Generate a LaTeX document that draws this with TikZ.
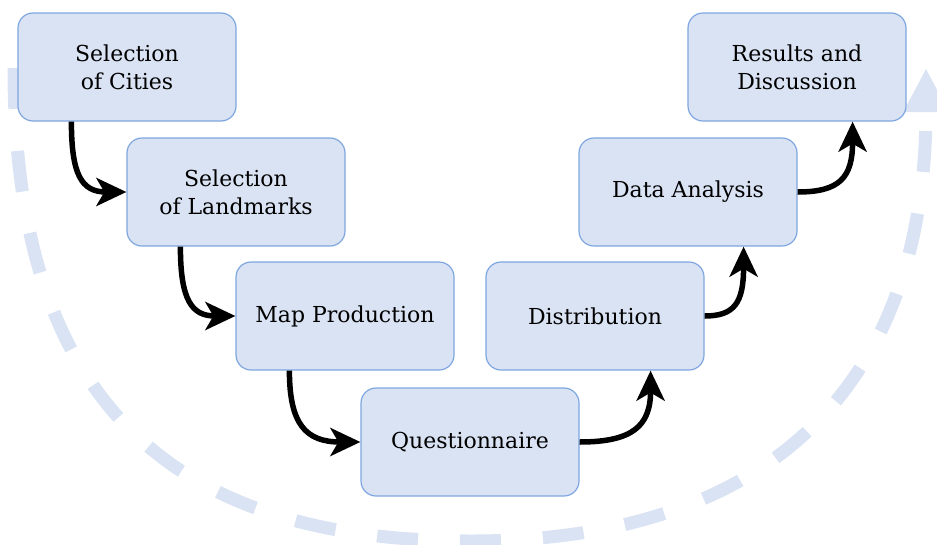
\documentclass[tikz,border=0pt]{standalone}
\usepackage{fontspec}
\setmainfont{DejaVu Serif}
\usetikzlibrary{arrows.meta}

\definecolor{boxfill}{RGB}{218,227,243}
\definecolor{boxline}{RGB}{126,166,224}
\definecolor{cycleblue}{RGB}{218,227,243}

\tikzset{
  stage/.style={draw=boxline, fill=boxfill, line width=1.2pt,
    rounded corners=15pt, minimum width=218pt, minimum height=108pt,
    align=center, font=\fontsize{22}{28}\selectfont, inner sep=0pt},
  flow/.style={line width=5.5pt, -{Stealth[length=30pt,width=28pt,inset=8pt]}},
  cycle/.style={line width=13pt, cycleblue, dash pattern=on 41pt off 42pt,
    -{Triangle[length=44pt,width=42pt]}}
}

\begin{document}
\begin{tikzpicture}[x=1pt,y=-1pt]
\useasboundingbox (0,0) rectangle (937,544);

% background cycle arrow
\coordinate (cstart) at (14,68);
\coordinate (cbottom) at (470,541);
\coordinate (cend) at (926,68);
\draw[cycle] (cstart) .. controls (14,390) and (160,541) .. (cbottom)
  .. controls (775,541) and (926,380) .. (cend);

% stages
\node[stage] (s1) at (127,67)  {Selection\\of Cities};
\node[stage] (s2) at (236,192) {Selection\\of Landmarks};
\node[stage] (s3) at (345,316) {Map Production};
\node[stage] (s4) at (470,442) {Questionnaire};
\node[stage] (s5) at (595,316) {Distribution};
\node[stage] (s6) at (688,192) {Data Analysis};
\node[stage] (s7) at (797,67)  {Results and\\Discussion};

% connectors going down
\foreach \a/\b/\h in {s1/s2/45, s2/s3/44, s3/s4/55}
  \draw[flow] ([xshift=54pt]\a.south west)
    .. controls +(0,53) and +(-\h,0) .. (\b.west);
% connectors going up
\foreach \a/\b/\h in {s4/s5/52, s5/s6/30, s6/s7/42}
  \draw[flow] (\a.east)
    .. controls +(\h,0) and +(0,56) .. ([xshift=-54pt]\b.south east);
\end{tikzpicture}
\end{document}
